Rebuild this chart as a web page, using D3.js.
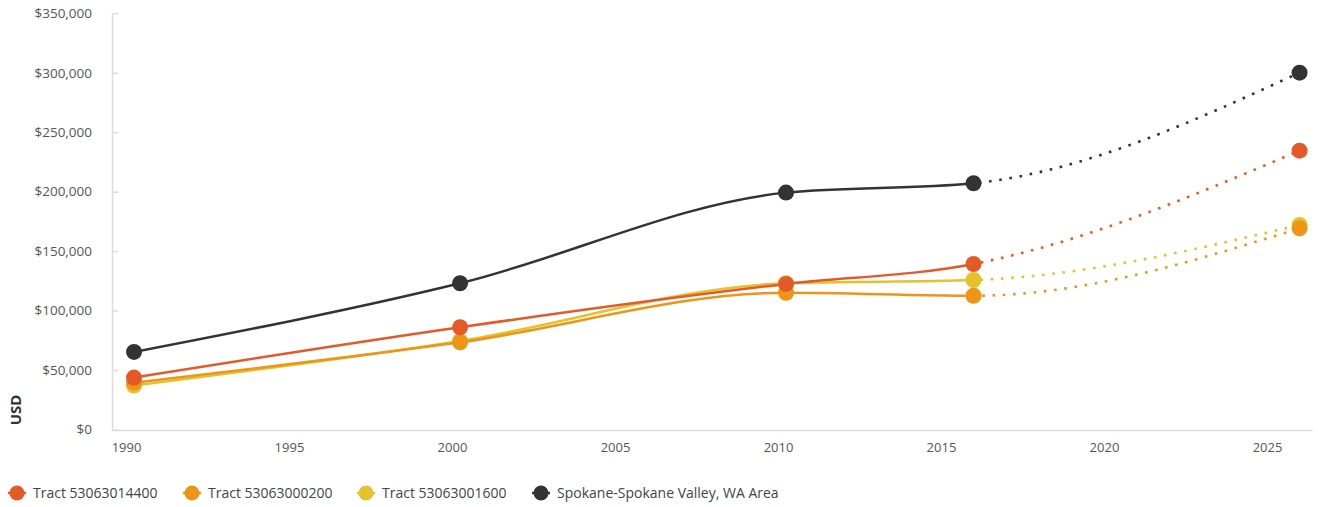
<!DOCTYPE html>
<html><head><meta charset="utf-8">
<script src="https://cdn.jsdelivr.net/npm/d3@7"></script>
<style>body{margin:0;background:#fff;} svg text{font-family:"Open Sans",sans-serif;}</style>
</head><body><svg id="chart" width="1318" height="507"></svg>
<script>
// ---- data ----
const dates = ["1990-04-01", "2000-04-01", "2010-04-01", "2016-01-01", "2026-01-01"];
const forecastStart = "2016-01-01";
const seriesNames = ["Tract 53063014400", "Tract 53063000200", "Tract 53063001600", "Spokane-Spokane Valley, WA Area"];
const tract14400 = [43700, 86000, 122400, 139200, 234500];
const tract0200 = [39400, 73300, 115000, 112500, 169200];
const tract1600 = [37000, 74500, 123000, 125700, 172000];
const spokaneArea = [65200, 123000, 199200, 207100, 300100];
const seriesColors = ["#E35A28", "#EC9516", "#E5C22B", "#333333"];
const yTickValues = [0, 50000, 100000, 150000, 200000, 250000, 300000, 350000];
const xTickYears = [1990, 1995, 2000, 2005, 2010, 2015, 2020, 2025];
const yLabel = "USD";

const seriesValues = [tract14400, tract0200, tract1600, spokaneArea];
const parse = d3.utcParse("%Y-%m-%d");
const series = seriesNames.map((name, i) => ({
  name, color: seriesColors[i],
  points: dates.map((d, j) => ({date: parse(d), value: seriesValues[i][j]}))
}));

const svg = d3.select("#chart");
const W = 1318;

// x scale: anchor tick years, then extend to axis extent
const x = d3.scaleUtc()
  .domain([Date.UTC(1990, 0, 1), Date.UTC(2025, 0, 1)])
  .range([126, 1267]);
x.domain([x.invert(112), x.invert(1312)]).range([112, 1312]);
const y = d3.scaleLinear().domain([0, 350000]).range([429.5, 13.3]);

// y axis
const yAxis = svg.append("g").attr("transform", "translate(112,0)")
  .call(d3.axisLeft(y).tickValues(yTickValues).tickFormat(d3.format("$,"))
    .tickSizeInner(-6).tickSizeOuter(0).tickPadding(20));
yAxis.select(".domain").attr("stroke", "#dcdcdc").attr("stroke-width", 1.5);
yAxis.selectAll(".tick line").attr("stroke", "#dcdcdc").attr("stroke-width", 1.5);
yAxis.selectAll(".tick text").attr("fill", "#555").style("font-size", "13.5px");

// x axis
const xAxis = svg.append("g").attr("transform", "translate(0,430)")
  .call(d3.axisBottom(x).tickValues(xTickYears.map(yy => new Date(Date.UTC(yy, 0, 1))))
    .tickFormat(d3.utcFormat("%Y")).tickSize(0).tickPadding(13));
xAxis.select(".domain").attr("stroke", "#dcdcdc").attr("stroke-width", 1.5);
xAxis.selectAll(".tick text").attr("fill", "#555").style("font-size", "13px");

// y label
svg.append("text").attr("transform", "translate(21,410) rotate(-90)")
  .attr("text-anchor", "middle").attr("fill", "#333")
  .style("font-size", "15px").style("font-weight", "700").text(yLabel);

// clip paths
const fx = x(parse(forecastStart));
const defs = svg.append("defs");
defs.append("clipPath").attr("id", "clipSolid").append("rect")
  .attr("x", 0).attr("y", 0).attr("width", fx).attr("height", 507);
defs.append("clipPath").attr("id", "clipDot").append("rect")
  .attr("x", fx).attr("y", 0).attr("width", W - fx).attr("height", 507);

const line = d3.line().x(d => x(d.date)).y(d => y(d.value)).curve(d3.curveMonotoneX);

const drawOrder = [3, 2, 1, 0];
drawOrder.forEach(i => {
  const s = series[i];
  const g = svg.append("g");
  g.append("path").attr("d", line(s.points)).attr("fill", "none")
    .attr("stroke", s.color).attr("stroke-width", 2.5).attr("clip-path", "url(#clipSolid)");
  g.append("path").attr("d", line(s.points)).attr("fill", "none")
    .attr("stroke", s.color).attr("stroke-width", 2.6)
    .attr("stroke-dasharray", "2.6,7.7").attr("clip-path", "url(#clipDot)");
});
drawOrder.forEach(i => {
  const s = series[i];
  svg.append("g").selectAll("circle").data(s.points).join("circle")
    .attr("cx", d => x(d.date)).attr("cy", d => y(d.value)).attr("r", 8)
    .attr("fill", s.color);
});

// legend
const legendX = [17, 192, 366, 541];
const lg = svg.append("g").attr("transform", "translate(0,493)");
series.forEach((s, i) => {
  const g = lg.append("g").attr("transform", `translate(${legendX[i]},0)`);
  g.append("line").attr("x1", -9).attr("x2", 9).attr("stroke", s.color).attr("stroke-width", 2.5);
  g.append("circle").attr("r", 7.5).attr("fill", s.color);
  g.append("text").attr("x", 16).attr("dy", "0.35em").attr("fill", "#444")
    .style("font-size", "14px").text(s.name);
});
</script></body></html>
